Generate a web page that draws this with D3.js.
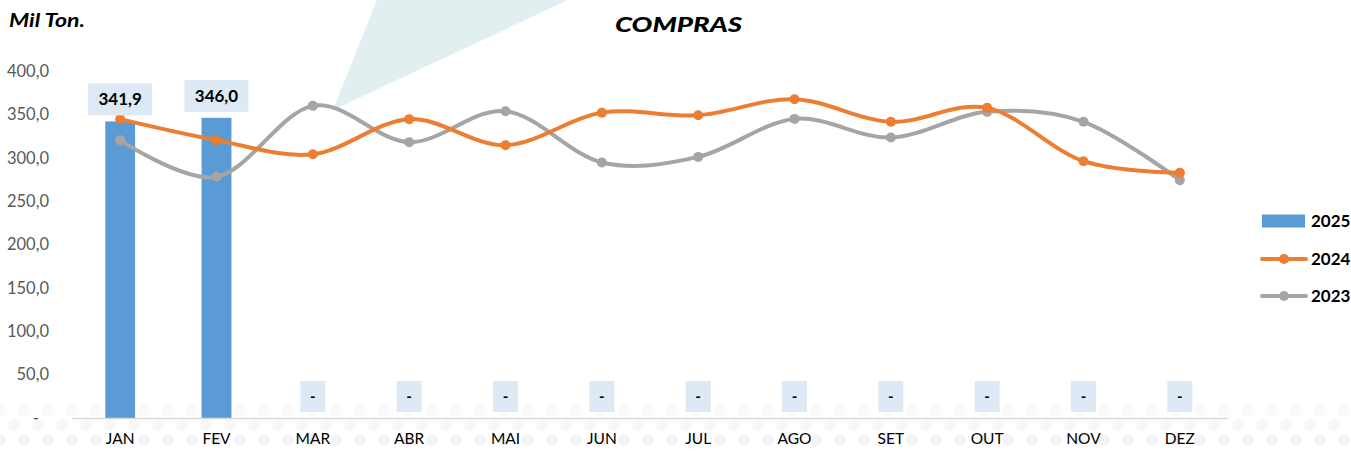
<!DOCTYPE html>
<html><head><meta charset="utf-8">
<script src="https://cdn.jsdelivr.net/npm/d3@7"></script>
<style>body{margin:0;background:#fff;overflow:hidden}svg{display:block}</style>
</head><body><svg id="c" width="1351" height="453"></svg>
<script>
const months = ["JAN","FEV","MAR","ABR","MAI","JUN","JUL","AGO","SET","OUT","NOV","DEZ"];
const s2025 = [341.9, 346.0, 0, 0, 0, 0, 0, 0, 0, 0, 0, 0];
const s2024 = [344.5, 320.3, 304.0, 344.5, 314.5, 352.0, 349.0, 367.5, 341.4, 357.5, 296.0, 282.6];
const s2023 = [320.3, 278.0, 359.8, 318.0, 353.7, 294.6, 301.0, 344.8, 323.4, 352.9, 341.4, 274.2];
const yTicks = [0, 50, 100, 150, 200, 250, 300, 350, 400];
const legendItems = ["2025", "2024", "2023"];

const svg = d3.select("#c");
const font = "Lato, 'Open Sans', sans-serif";

// background decorations
const bg = svg.append("g");
bg.append("polygon").attr("points","377,0 568,0 333,110").attr("fill","#e1eff1");
const dots = bg.append("g").attr("fill","#eef0f6");
for (let row=0; row<3; row++) {
  for (let x = (row%2? 14: 0); x < 1351; x += 24) {
    dots.append("circle").attr("cx", x).attr("cy", 410 + row*15).attr("r", 6).attr("opacity", 0.35 + row*0.2);
  }
}

const x = d3.scaleBand().domain(months).range([72, 1228]).paddingInner(0.69).paddingOuter(0.345);
const xc = d => x(d) + x.bandwidth()/2;
const y = d3.scaleLinear().domain([0, 400]).range([418, 71]);
const fmt = v => v === 0 ? "-" : d3.format(".1f")(v).replace(".", ",");

// y axis
const yAxis = d3.axisLeft(y).tickValues(yTicks).tickSize(0).tickPadding(0).tickFormat(fmt);
const ya = svg.append("g").attr("transform","translate(49,0)").call(yAxis);
ya.select(".domain").remove();
ya.selectAll("text").attr("font-family", font).attr("font-size", 16.5).attr("fill", "#595959")
  .attr("dx", d => d === 0 ? -10 : 0);

// bars
svg.append("g").selectAll("rect").data(months).join("rect")
  .attr("x", d => x(d)).attr("width", x.bandwidth())
  .attr("y", (d,i) => y(s2025[i])).attr("height", (d,i) => y(0) - y(s2025[i]))
  .attr("fill", "#5b9bd5");

// x axis
const xAxis = d3.axisBottom(x).tickSize(0).tickPadding(15);
const xa = svg.append("g").attr("transform","translate(0,418)").call(xAxis);
xa.select(".domain").attr("stroke","#d9d9d9").attr("stroke-width",1.5);
xa.selectAll("text").attr("font-family", font).attr("font-size", 15.5).attr("fill", "#000");

// lines
const line = d3.line().x((d,i) => xc(months[i])).y(d => y(d)).curve(d3.curveCatmullRom.alpha(0));
[[s2023,"#a5a5a5"],[s2024,"#ed7d31"]].forEach(([s,c]) => {
  svg.append("path").attr("d", line(s)).attr("fill","none").attr("stroke",c).attr("stroke-width",4).attr("stroke-linecap","round");
  svg.append("g").selectAll("circle").data(s).join("circle")
    .attr("cx",(d,i)=>xc(months[i])).attr("cy",d=>y(d)).attr("r",5).attr("fill",c);
});

// bar labels
const lab = svg.append("g").selectAll("g").data(months).join("g");
lab.each(function(d,i){
  const g = d3.select(this);
  const v = s2025[i];
  const cx = xc(d);
  if (v > 0) {
    const top = y(v) - 38;
    g.append("rect").attr("x", cx-32).attr("y", top).attr("width", 64).attr("height", 32).attr("fill","#dde9f5");
    g.append("text").attr("x", cx).attr("y", top+22).attr("text-anchor","middle")
      .attr("font-family", font).attr("font-weight","bold").attr("font-size",17).attr("fill","#000").text(fmt(v));
  } else {
    g.append("rect").attr("x", cx-12.5).attr("y", 381).attr("width", 25).attr("height", 31).attr("fill","#dde9f5");
    g.append("text").attr("x", cx).attr("y", 402).attr("text-anchor","middle")
      .attr("font-family", font).attr("font-weight","bold").attr("font-size",15).attr("fill","#000").text(fmt(v));
  }
});

// titles
svg.append("text").attr("x", 615).attr("y", 32)
  .attr("textLength", 127).attr("lengthAdjust","spacingAndGlyphs")
  .attr("font-family", font).attr("font-weight","900").attr("font-style","italic").attr("font-size",21).text("COMPRAS");
svg.append("text").attr("x", 9).attr("y", 27)
  .attr("textLength", 76).attr("lengthAdjust","spacingAndGlyphs")
  .attr("font-family", font).attr("font-weight","bold").attr("font-style","italic").attr("font-size",18.5).text("Mil Ton.");

// legend
const lg = svg.append("g");
const ly = [221, 259, 296];
lg.append("rect").attr("x",1262).attr("y",ly[0]-6.5).attr("width",43).attr("height",13).attr("fill","#5b9bd5");
[["#ed7d31",1],["#a5a5a5",2]].forEach(([c,k]) => {
  lg.append("line").attr("x1",1262).attr("x2",1306).attr("y1",ly[k]).attr("y2",ly[k]).attr("stroke",c).attr("stroke-width",4).attr("stroke-linecap","round");
  lg.append("circle").attr("cx",1284).attr("cy",ly[k]).attr("r",5).attr("fill",c);
});
lg.selectAll("text").data(legendItems).join("text")
  .attr("x",1311).attr("y",(d,i)=>ly[i]+6)
  .attr("font-family", font).attr("font-weight","bold").attr("font-size",17).attr("fill","#000").text(d=>d);
</script></body></html>
